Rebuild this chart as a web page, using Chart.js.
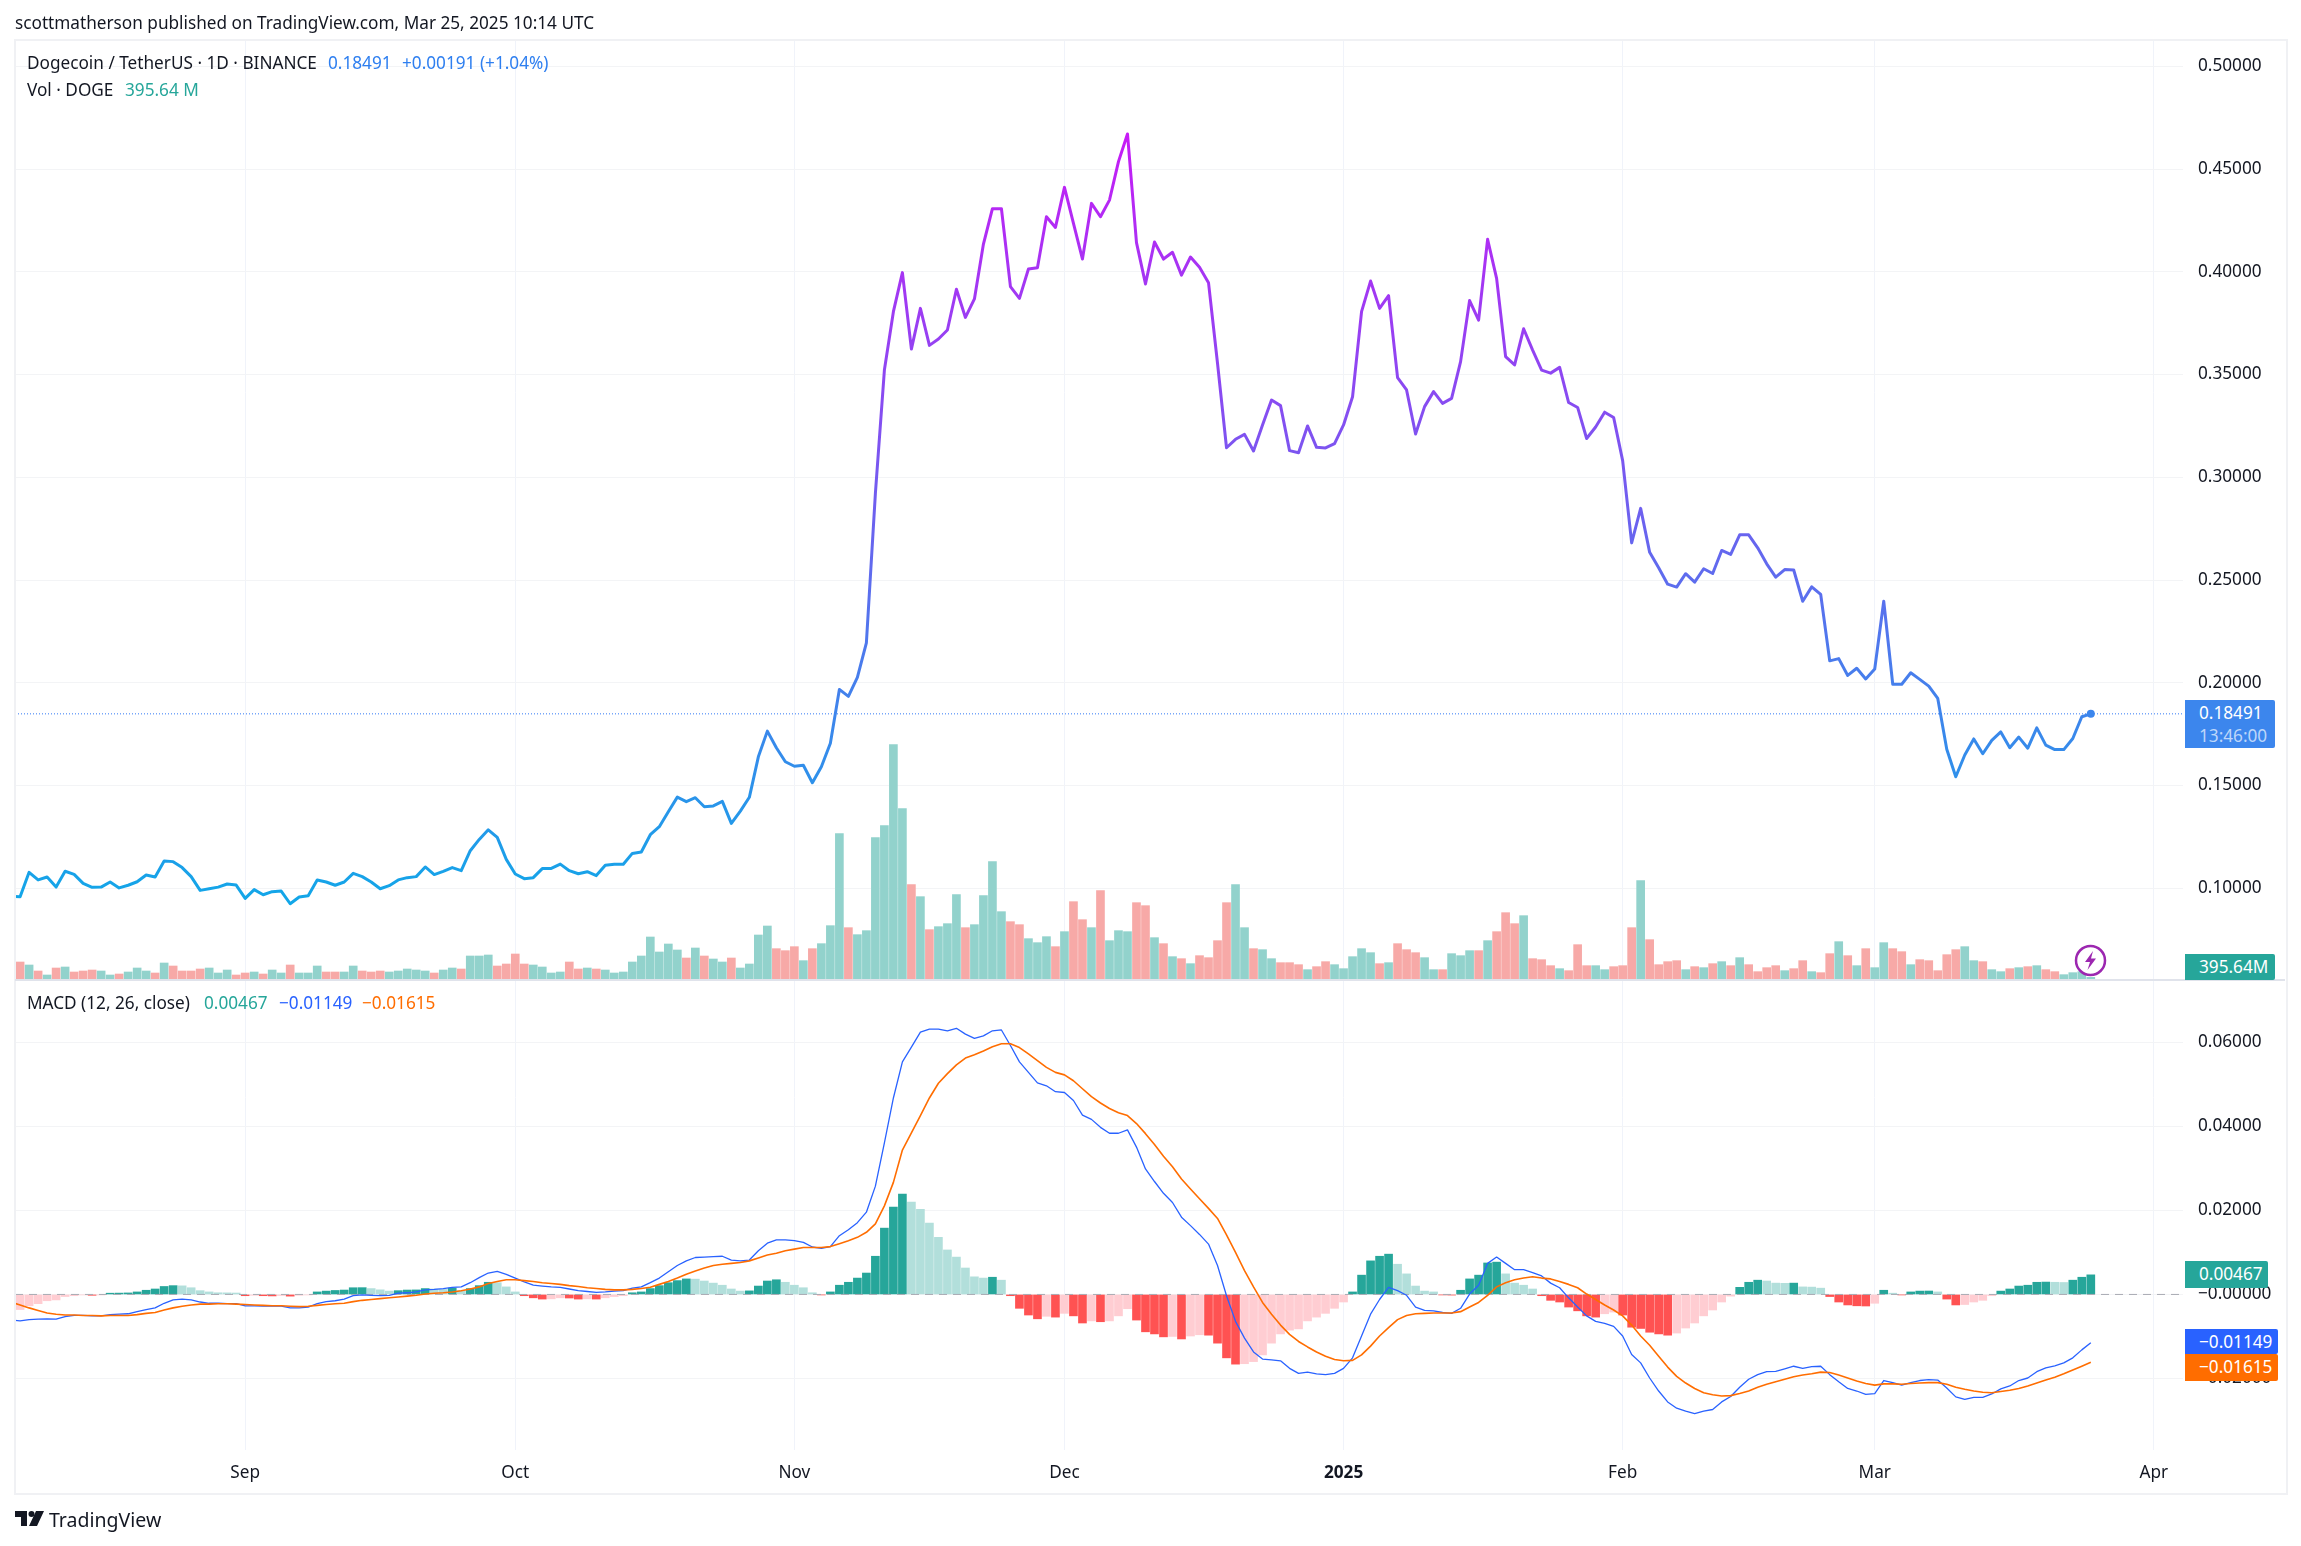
<!DOCTYPE html>
<html lang="en">
<head>
    <meta charset="UTF-8">
    <title>Dogecoin / TetherUS</title>
    <style>
        body {
            margin: 0;
            background: #fff;
            font-family: "Noto Sans", sans-serif;
            font-size: 17.2px;
            color: #131722;
        }

        #page {
            position: relative;
            width: 2301px;
            height: 1546px;
            overflow: hidden;
        }

        #chart {
            position: absolute;
            left: 0;
            top: 0;
        }

        .txt {
            position: absolute;
            white-space: nowrap;
            line-height: 24px;
            transform: translateY(-12px);
        }

        .tag {
            position: absolute;
            left: 2185px;
            color: #fff;
            border-radius: 0 2px 2px 0;
            line-height: 26px;
            padding-left: 14px;
            box-sizing: border-box;
            white-space: nowrap;
        }

        #frame {
            position: absolute;
            left: 14px;
            top: 39px;
            width: 2270px;
            height: 1452px;
            border: 2px solid #f0f1f4;
        }

        #split {
            position: absolute;
            left: 15px;
            top: 979px;
            width: 2270px;
            height: 2px;
            background: #e0e3eb;
        }
    </style>
</head>
<body>
<div id="page">
    <canvas id="chart" width="2301" height="1546"></canvas>
    <div id="frame"></div>
    <div id="split"></div>

    <div class="txt" style="left:15px;top:23px">scottmatherson published on TradingView.com, Mar 25, 2025 10:14 UTC</div>

    <div class="txt" style="left:27px;top:63px">Dogecoin / TetherUS · 1D · BINANCE</div>
    <div class="txt" style="left:328px;top:63px;color:#2e7ff0">0.18491</div>
    <div class="txt" style="left:402px;top:63px;color:#2e7ff0">+0.00191 (+1.04%)</div>
    <div class="txt" style="left:27px;top:90px">Vol · DOGE</div>
    <div class="txt" style="left:125px;top:90px;color:#26a69a">395.64 M</div>

    <div class="txt" style="left:27px;top:1003px">MACD (12, 26, close)</div>
    <div class="txt" style="left:204px;top:1003px;color:#26a69a">0.00467</div>
    <div class="txt" style="left:279px;top:1003px;color:#2962ff">−0.01149</div>
    <div class="txt" style="left:362px;top:1003px;color:#ff6d00">−0.01615</div>

    <div class="tag" style="top:700px;width:90px;height:48px;background:#3c86ed;line-height:23px;padding-top:1px">
        0.18491<br><span style="color:#bcd6fa">13:46:00</span>
    </div>
    <div class="tag" style="top:954px;width:90px;height:26px;background:#26a69a">395.64M</div>
    <div class="tag" style="top:1261px;width:83px;height:27px;background:#26a69a">0.00467</div>
    <div class="tag" style="top:1329px;width:93px;height:25px;background:#2962ff">−0.01149</div>
    <div class="tag" style="top:1354px;width:93px;height:27px;background:#ff6d00">−0.01615</div>

    <svg style="position:absolute;left:2074px;top:944px" width="33" height="33" viewBox="0 0 33 33">
        <circle cx="16.5" cy="16.5" r="14.5" fill="#fff" stroke="#9c27b0" stroke-width="2.5"/>
        <path d="M19 7 L11 18 H16 L13.5 26 L22 14.5 H17 Z" fill="#9c27b0"/>
    </svg>

    <svg style="position:absolute;left:15px;top:1511px" width="30" height="16" viewBox="0 0 30 16">
        <path d="M0 0 H12 V15 H6 V6 H0 Z M21 0 H29 L22 15 H14 Z" fill="#131722"/>
        <circle cx="16.5" cy="3" r="3" fill="#131722"/>
    </svg>
    <div class="txt" style="left:49px;top:1520px;font-size:19.5px">TradingView</div>
</div>

<script src="https://cdn.jsdelivr.net/npm/chart.js"></script>
<script>
    // one entry per daily bar, first one is Aug 7 2024, last is Mar 25 2025
    const closePrices = [
        .0959,.1078,.1041,.1055,.1006,.1083,.1068,.1024,.1005,.1006,
        .1031,.1002,.1015,.1032,.1065,.1055,.1133,.113,.1101,.1057,
        .099,.0998,.1006,.1021,.1016,.0951,.0994,.0969,.0984,.0987,
        .0925,.0958,.0964,.1041,.1031,.1015,.1031,.1073,.1057,.1031,
        .0998,.1013,.1041,.1052,.1057,.1104,.1067,.1083,.1101,.1086,
        .1183,.1238,.1285,.1248,.1141,.107,.1047,.1052,.1096,.1097,
        .1118,.1086,.1071,.1081,.1062,.1112,.1117,.1117,.117,.1177,
        .1261,.13,.1373,.1444,.1422,.1441,.1397,.1401,.1423,.1316,
        .1376,.1443,.164,.1765,.1684,.1616,.1594,.1599,.1514,.1592,
        .1706,.1968,.1934,.2027,.2195,.2922,.3522,.3806,.3996,.3624,
        .3822,.3642,.3673,.3717,.3915,.3778,.3868,.4135,.4307,.4307,
        .3928,.3871,.4014,.402,.4268,.4216,.4411,.4236,.4062,.4333,
        .4268,.4349,.4536,.4671,.4142,.3941,.4145,.4062,.4095,.3984,
        .4072,.4022,.3947,.3555,.3144,.3185,.3209,.3128,.3255,.3376,
        .3349,.313,.312,.325,.3146,.3143,.3164,.3255,.3392,.3806,
        .3955,.3822,.3884,.3485,.3425,.3211,.3344,.3417,.336,.3384,
        .3563,.386,.3765,.4158,.3968,.3587,.3547,.3723,.3619,.3522,
        .3507,.3535,.3364,.334,.3189,.3245,.3317,.3291,.3081,.2681,
        .2849,.2635,.256,.248,.2466,.2531,.249,.2555,.2532,.2644,
        .2625,.272,.272,.2657,.2579,.2514,.2551,.2549,.2397,.2467,
        .243,.2107,.2118,.2036,.2071,.2019,.2067,.2397,.1993,.1993,
        .2049,.2017,.1984,.1924,.1677,.1543,.1649,.1727,.1655,.172,
        .1761,.1684,.1736,.1682,.1781,.1697,.1675,.1675,.1729,.1835,.18491
    ];

    // billions of DOGE
    const volumes = [
        2.7,2.25,1.35,.75,1.8,1.95,1.2,1.35,1.5,1.35,
        .75,.9,1.2,1.8,1.35,1.05,2.55,2.1,1.35,1.35,
        1.65,1.8,1.05,1.5,.75,1.05,1.2,.9,1.5,1.05,
        2.25,1.05,1.05,2.1,1.2,1.2,1.2,2.1,1.35,1.2,
        1.35,1.2,1.35,1.65,1.5,1.35,1.05,1.5,1.8,1.65,
        3.6,3.6,3.75,2.1,2.4,3.9,2.4,2.25,1.95,1.05,
        1.2,2.7,1.65,1.8,1.65,1.5,1.05,1.2,2.7,3.6,
        6.45,4.2,5.4,4.5,3.3,4.8,3.6,3.15,2.7,3.3,
        1.8,2.4,6.75,8.1,4.7,4.4,5,2.9,4.7,5.45,
        8.15,21.95,7.85,6.8,7.4,21.35,23.15,35.3,25.7,14.3,
        12.5,7.55,8,8.45,12.8,7.85,8.3,12.65,17.75,10.25,
        8.75,8.3,6.2,5.6,6.5,5,7.25,11.75,9.05,7.85,
        13.4,5.9,7.4,7.25,11.6,11.15,6.35,5.45,3.5,3.2,
        2.45,3.65,3.35,5.9,11.6,14.3,7.85,4.7,4.55,3.2,
        2.6,2.6,2.3,1.55,2,2.75,2.3,1.7,3.5,4.7,
        4.1,2.45,2.6,5.45,4.55,4.1,3.35,1.55,1.55,3.95,
        3.65,4.4,4.4,5.9,7.25,10.1,8.45,9.65,3.2,3.05,
        2.15,1.7,1.4,5.3,2.15,2.15,1.55,2,2.15,7.85,
        14.9,6.05,2.3,2.75,2.9,1.55,2,1.85,2.45,2.75,
        2.15,3.35,2.3,1.25,1.85,2.15,1.4,1.7,2.9,1.25,
        1.1,3.95,5.75,3.65,2.15,4.7,1.85,5.6,4.7,4.25,
        2.3,3.05,2.9,1.4,3.8,4.55,5,2.9,2.75,1.55,
        1.25,1.7,1.85,2,2.15,1.55,1.25,.8,1.1,1.25,.4
    ];

    // 1 = up day, 0 = down day
    const volumeUp = [
        0,1,0,1,0,1,0,0,0,1, 1,0,1,1,1,0,1,0,0,0, 0,1,1,1,0,0,1,0,1,1,
        0,1,1,1,0,0,1,1,0,0, 0,1,1,1,1,1,0,1,1,0, 1,1,1,0,0,0,0,1,1,1,
        1,0,0,1,0,1,1,1,1,1, 1,1,1,1,0,1,0,1,1,0, 1,1,1,1,0,0,0,1,0,1,
        1,1,0,1,1,1,1,1,1,0, 1,0,1,1,1,0,1,1,1,1, 0,0,1,1,1,0,1,0,0,1,
        0,1,1,1,0,0,1,0,1,0, 1,0,0,0,0,1,1,0,1,1, 0,0,0,1,0,0,1,1,1,1,
        1,0,1,0,0,0,1,1,0,1, 1,1,0,1,0,0,0,1,0,0, 0,1,0,0,0,1,1,0,0,0,
        1,0,0,0,0,1,0,1,0,1, 0,1,0,0,0,0,1,0,0,1, 0,0,1,0,1,0,1,1,0,0,
        1,0,0,0,0,0,1,1,0,1, 1,0,1,0,1,0,0,1,1,1,1
    ];

    const macdHist = [
        -.0036,-.0027,-.0022,-.0015,-.0013,-.0005,-.0003,-.0001,-.0002,-.0001,
        .0003,.00032,.00036,.0006,.001,.0013,.0019,.0021,.00205,.0016,
        .0009,.0006,.0004,.00038,.00034,-.0003,-.0002,-.0003,-.00035,-.00025,
        -.0004,-.0002,-.0001,.0006,.0008,.00095,.00105,.0016,.00162,.0014,
        .0011,.0008,.0009,.00105,.00108,.0014,.0013,.0012,.0015,.0009,
        .0014,.0021,.0029,.0028,.0018,.0006,-.0003,-.0008,-.0011,-.00105,
        -.0008,-.00085,-.0011,-.00105,-.0011,-.0008,-.0005,-.0003,.0004,.0006,
        .0014,.0021,.0028,.0033,.0037,.00365,.0032,.0027,.0022,.0013,
        .0008,.00085,.002,.0032,.0035,.0029,.0022,.0016,.0004,-.0001,
        .0006,.0022,.0029,.0039,.0051,.0091,.0158,.0208,.0239,.022,
        .0203,.017,.0136,.0106,.0089,.0063,.0042,.0039,.0041,.0034,
        -.0003,-.0033,-.0049,-.0058,-.0052,-.0054,-.0045,-.0051,-.0068,-.0063,
        -.0065,-.0063,-.0051,-.0034,-.0061,-.0089,-.0094,-.0101,-.01,-.0106,
        -.0099,-.0096,-.0097,-.0116,-.0151,-.0166,-.0165,-.016,-.0144,-.0116,
        -.0094,-.0085,-.0082,-.0063,-.0054,-.0045,-.0033,-.0018,.0006,.0046,
        .008,.0091,.0096,.0072,.0049,.002,.0008,.0006,-.0001,-.00015,
        .001,.0037,.0046,.0075,.0077,.0049,.0027,.0022,.0013,-.0003,
        -.0014,-.0018,-.003,-.0039,-.0051,-.0054,-.0046,-.0042,-.0049,-.0078,
        -.0081,-.009,-.0094,-.0097,-.0092,-.008,-.0068,-.0051,-.0037,-.0018,
        -.0004,.0017,.0029,.0034,.0032,.0027,.00265,.0027,.0018,.00175,
        .0015,-.0005,-.0018,-.0025,-.0027,-.00275,-.0021,.001,.0003,-.0001,
        .0006,.0008,.00082,.0006,-.0011,-.0025,-.0024,-.0018,-.0014,-.0003,
        .0008,.0013,.002,.0022,.0029,.00295,.0029,.00285,.0034,.0041,.00467
    ];

    const macdLine = [
        -.0063,-.006,-.0059,-.0058,-.0059,-.0053,-.005,-.005,-.0051,-.0051,
        -.0048,-.0047,-.0046,-.0041,-.0036,-.0032,-.0021,-.0013,-.0011,-.0013,
        -.0018,-.0021,-.0021,-.0022,-.0022,-.0027,-.0027,-.0028,-.0028,-.0028,
        -.0032,-.0032,-.003,-.0022,-.0017,-.0015,-.0011,-.0003,-.0001,-.0002,
        -.0003,-.0002,.0003,.0004,.0006,.0011,.0012,.0014,.0017,.0018,
        .0028,.004,.0051,.0055,.0048,.0039,.003,.0022,.002,.0018,
        .0017,.0013,.0009,.0007,.0005,.0006,.0008,.0009,.0015,.0018,
        .0028,.0039,.0054,.0069,.008,.0088,.0089,.009,.0091,.0082,
        .008,.0082,.0104,.0122,.013,.013,.0128,.0124,.0113,.011,
        .0114,.014,.0154,.0171,.0196,.0258,.0361,.0468,.0554,.0589,
        .0625,.0632,.0632,.0628,.0634,.062,.061,.0616,.0628,.063,
        .0593,.0554,.0529,.0504,.0497,.0483,.0481,.0462,.0427,.0417,
        .0398,.0384,.0384,.0392,.0351,.0299,.0269,.0241,.0219,.0184,
        .0164,.0143,.012,.0069,-.0003,-.0064,-.0104,-.0137,-.0154,-.0156,
        -.0158,-.0176,-.0188,-.0185,-.0189,-.0191,-.0188,-.0176,-.0151,-.0099,
        -.0047,-.0012,.0017,.0009,-.0002,-.003,-.0038,-.0039,-.0043,-.0045,
        -.0033,.0001,.0022,.0074,.0089,.0074,.0059,.0059,.0052,.0044,
        .0027,.0016,-.0008,-.003,-.0051,-.0064,-.0069,-.0076,-.0099,-.0143,
        -.0163,-.0199,-.023,-.0256,-.0271,-.0278,-.0284,-.0278,-.0274,-.0256,
        -.0243,-.0221,-.0202,-.0191,-.0184,-.0183,-.0177,-.0171,-.0176,-.0172,
        -.0171,-.0191,-.0208,-.0224,-.023,-.0238,-.0236,-.0205,-.021,-.0216,
        -.021,-.0205,-.0203,-.0204,-.0223,-.0244,-.025,-.0245,-.0245,-.0237,
        -.0225,-.0218,-.0205,-.0199,-.0184,-.0175,-.017,-.0163,-.0151,-.0132,-.01149
    ];

    const signalLine = [
        -.0025,-.0032,-.0038,-.0044,-.0047,-.0049,-.0049,-.005,-.005,-.0051,
        -.005,-.005,-.005,-.0048,-.0045,-.0043,-.0037,-.0032,-.0028,-.0025,
        -.0023,-.0023,-.0022,-.0022,-.0023,-.0024,-.0025,-.0026,-.0027,-.0027,
        -.0028,-.0029,-.0028,-.0026,-.0024,-.0022,-.0021,-.0017,-.0014,-.0012,
        -.001,-.0008,-.0006,-.0004,-.0002,.0001,.0003,.0004,.0006,.0009,
        .0013,.0018,.0026,.0031,.0035,.0035,.0033,.0031,.0028,.0026,
        .0024,.0021,.0019,.0016,.0014,.0012,.0011,.0011,.0012,.0014,
        .0017,.0024,.0031,.0039,.0048,.0056,.0063,.0069,.0072,.0074,
        .0076,.008,.0087,.0094,.0098,.0104,.0108,.0112,.0112,.0112,
        .0114,.0121,.0128,.0136,.0148,.0168,.0211,.0267,.0344,.0385,
        .0426,.0468,.0503,.0526,.0547,.0563,.0571,.058,.059,.0597,
        .0597,.0588,.0573,.0557,.0541,.0529,.0523,.0509,.049,.0471,
        .0456,.0443,.0433,.0426,.0407,.0383,.0357,.0329,.0304,.0275,
        .0251,.0228,.0205,.0181,.0142,.01,.0057,.0018,-.0019,-.0047,
        -.0073,-.0095,-.0112,-.0125,-.0137,-.0147,-.0155,-.0158,-.0157,-.0144,
        -.0123,-.0099,-.0079,-.006,-.005,-.0046,-.0045,-.0044,-.0044,-.0044,
        -.0041,-.003,-.0019,-.0002,.0018,.0028,.0035,.0039,.0042,.0039,
        .0037,.0031,.0024,.0016,.0001,-.0012,-.0025,-.0037,-.0051,-.0073,
        -.0099,-.0121,-.0147,-.0173,-.0195,-.0211,-.0224,-.0234,-.0239,-.0242,
        -.0241,-.0236,-.023,-.0221,-.0214,-.0208,-.0202,-.0196,-.0192,-.0189,
        -.0185,-.0186,-.0192,-.0199,-.0206,-.0212,-.0216,-.0213,-.0213,-.0214,
        -.0212,-.0211,-.021,-.021,-.0214,-.0221,-.0226,-.023,-.0233,-.0234,
        -.0231,-.0228,-.0224,-.0218,-.0211,-.0204,-.0197,-.0189,-.018,-.0171,-.01615
    ];

    // the day before the first whole bar, only its tail shows at the left edge
    const closeBefore = 0.0962;
    const macdBefore = -0.0061;
    const signalBefore = -0.0018;

    const priceTicks = [0.1, 0.15, 0.2, 0.25, 0.3, 0.35, 0.4, 0.45, 0.5];
    const macdTicks = [-0.02, 0, 0.02, 0.04, 0.06];
    const monthLabels = ['Sep', 'Oct', 'Nov', 'Dec', '2025', 'Feb', 'Mar', 'Apr'];
    const monthStarts = [25, 55, 86, 116, 147, 178, 206, 237]; // bar index of the 1st of each month
    const lastPrice = 0.18491;

    const xMin = -0.5665;
    const xMax = 240.24;
    const lastIndex = closePrices.length - 1;

    const toPoints = values => values.map((v, i) => ({ x: i, y: v }));
    const withBefore = (before, values) => [{ x: -1, y: before }, ...toPoints(values)];

    const volumeColors = volumeUp.map(up => up ? '#92d2cc' : '#f7a9a7');
    const histColors = macdHist.map((v, i) => {
        const prev = i > 0 ? macdHist[i - 1] : v;
        if (v >= 0) return prev < v ? '#26a69a' : '#b2dfdb';
        return prev < v ? '#ffcdd2' : '#ff5252';
    });
    histColors[0] = '#ffcdd2';

    const tickFont = { family: '"Noto Sans", sans-serif', size: 17.2 };

    function priceGradient(context) {
        const chart = context.chart;
        if (!chart.chartArea) return '#3c86ed';
        const yScale = chart.scales.yPrice;
        const g = chart.ctx.createLinearGradient(0, yScale.getPixelForValue(0.47), 0, yScale.getPixelForValue(0.09));
        g.addColorStop(0, '#c81af6');
        g.addColorStop(1, '#10a8e8');
        return g;
    }

    new Chart(document.getElementById('chart'), {
        data: {
            datasets: [
                {
                    type: 'line',
                    data: withBefore(closeBefore, closePrices),
                    yAxisID: 'yPrice',
                    borderColor: priceGradient,
                    borderWidth: 3,
                    borderJoinStyle: 'round',
                    pointRadius: ctx => ctx.dataIndex === lastIndex + 1 ? 4 : 0,
                    pointBackgroundColor: '#3c86ed',
                    pointBorderWidth: 0,
                    order: 1
                },
                {
                    type: 'line',
                    data: [{ x: xMin, y: lastPrice }, { x: xMax, y: lastPrice }],
                    yAxisID: 'yPrice',
                    borderColor: '#3179f5',
                    borderWidth: 1,
                    borderDash: [1, 2],
                    pointRadius: 0,
                    order: 2
                },
                {
                    type: 'bar',
                    data: toPoints(volumes),
                    yAxisID: 'yVolume',
                    stack: 'bars',
                    backgroundColor: volumeColors,
                    barThickness: 8,
                    order: 3
                },
                {
                    type: 'line',
                    data: withBefore(macdBefore, macdLine),
                    yAxisID: 'yMacd',
                    borderColor: '#2962ff',
                    borderWidth: 1.3,
                    borderJoinStyle: 'round',
                    pointRadius: 0,
                    order: 1
                },
                {
                    type: 'line',
                    data: withBefore(signalBefore, signalLine),
                    yAxisID: 'yMacd',
                    borderColor: '#ff6d00',
                    borderWidth: 1.6,
                    borderJoinStyle: 'round',
                    pointRadius: 0,
                    order: 0
                },
                {
                    type: 'line',
                    data: [{ x: xMin, y: 0 }, { x: xMax, y: 0 }],
                    yAxisID: 'yMacd',
                    borderColor: '#a8abb3',
                    borderWidth: 1,
                    borderDash: [8, 6],
                    pointRadius: 0,
                    order: 2
                },
                {
                    type: 'bar',
                    data: toPoints(macdHist),
                    yAxisID: 'yMacd',
                    stack: 'bars',
                    backgroundColor: histColors,
                    barThickness: 8,
                    order: 3
                }
            ]
        },
        options: {
            responsive: false,
            animation: false,
            events: [],
            layout: { padding: { left: 15, top: 40, right: 16, bottom: 53 } },
            plugins: { legend: { display: false }, tooltip: { enabled: false } },
            scales: {
                x: {
                    type: 'linear',
                    offset: false,
                    min: xMin,
                    max: xMax,
                    border: { display: false },
                    grid: { color: '#f0f3fa', drawTicks: false, offset: false },
                    afterBuildTicks: axis => { axis.ticks = monthStarts.map(v => ({ value: v })); },
                    afterFit: axis => { axis.height = 43; },
                    ticks: {
                        autoSkip: false,
                        maxRotation: 0,
                        padding: 13,
                        color: '#131722',
                        font: ctx => ctx.tick && ctx.tick.value === 147 ? { ...tickFont, weight: 'bold' } : tickFont,
                        callback: value => monthLabels[monthStarts.indexOf(value)]
                    }
                },
                yPrice: {
                    position: 'right',
                    stack: 'panes',
                    stackWeight: 2,
                    min: 0.0554,
                    max: 0.5128,
                    border: { display: false },
                    grid: { color: '#f3f4f6', drawTicks: false },
                    afterBuildTicks: axis => { axis.ticks = priceTicks.map(v => ({ value: v })); },
                    afterFit: axis => { axis.width = 102; },
                    ticks: {
                        crossAlign: 'near',
                        autoSkip: false,
                        padding: 15,
                        color: '#131722',
                        font: tickFont,
                        callback: value => value.toFixed(5)
                    }
                },
                yMacd: {
                    position: 'right',
                    stack: 'panes',
                    stackWeight: 1,
                    min: -0.03705,
                    max: 0.0749,
                    border: { display: false },
                    grid: { color: '#f3f4f6', drawTicks: false },
                    afterBuildTicks: axis => { axis.ticks = macdTicks.map(v => ({ value: v })); },
                    afterFit: axis => { axis.width = 102; },
                    ticks: {
                        crossAlign: 'near',
                        autoSkip: false,
                        padding: 15,
                        color: '#131722',
                        font: tickFont,
                        callback: value => (value <= 0 ? '−' : '') + Math.abs(value).toFixed(5)
                    }
                },
                // volume sits on the floor of the price pane, so zero has to land on the pane border
                yVolume: {
                    display: false,
                    position: 'right',
                    min: -70.5,
                    max: 141
                }
            }
        }
    });
</script>
</body>
</html>
